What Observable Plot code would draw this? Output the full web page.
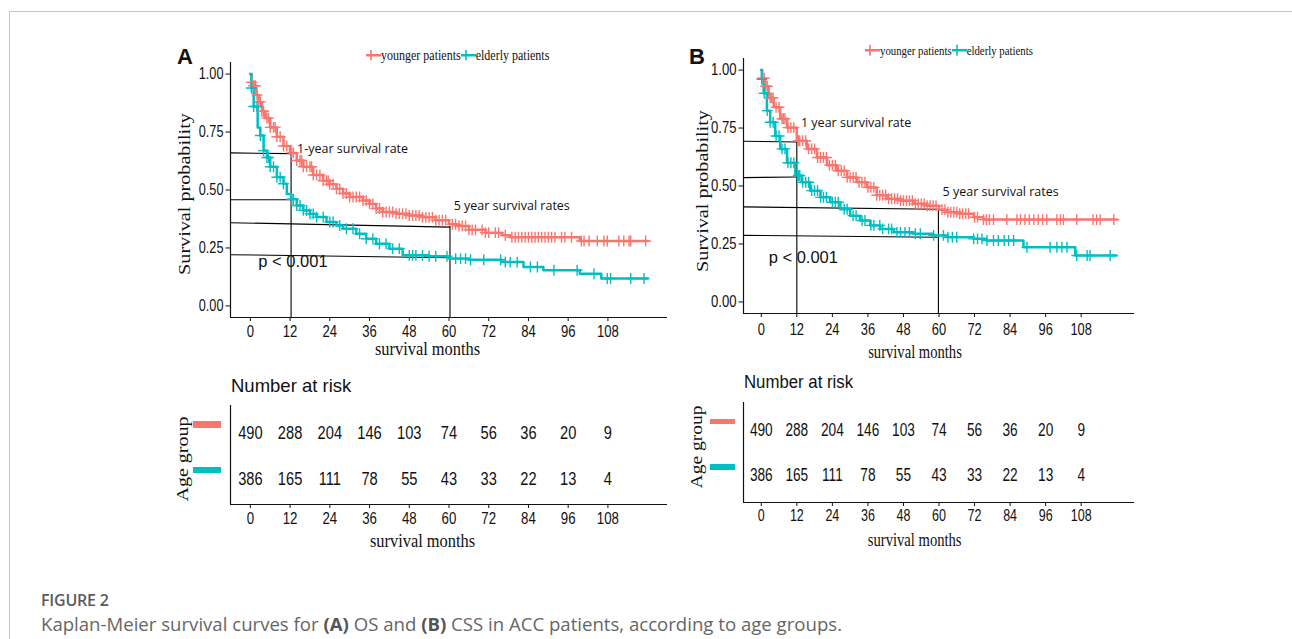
<!DOCTYPE html>
<html><head><meta charset="utf-8">
<script src="https://cdn.jsdelivr.net/npm/d3@7"></script>
<script src="https://cdn.jsdelivr.net/npm/@observablehq/plot@0.6"></script>
<style>
body{margin:0;background:#fff;}
#fig{position:relative;width:1292px;height:639px;overflow:hidden;background:#fff;font-family:"Liberation Sans",Arial,sans-serif;color:#111;}
.abs{position:absolute;white-space:nowrap;line-height:1;}
.plotbox{position:absolute;}
.plotbox svg{overflow:visible;}
</style></head><body><div id="fig"></div>
<script>
// ---------- data ----------
const months = [0,12,24,36,48,60,72,84,96,108];
const groups = ["younger patients","elderly patients"];
const colors = ["#F8766D","#00BFC4"];

const riskA_younger = [490,288,204,146,103,74,56,36,20,9];
const riskA_elderly = [386,165,111,78,55,43,33,22,13,4];
const riskB_younger = [490,288,204,146,103,74,56,36,20,9];
const riskB_elderly = [386,165,111,78,55,43,33,22,13,4];

// Kaplan-Meier step points [month, survival]
const kmA_younger = [[0,1],[0.4,0.965],[1,0.95],[1.8,0.91],[2.5,0.88],[3.5,0.84],[4.5,0.81],[6,0.77],[8,0.73],[10,0.69],[12,0.66],[14,0.627],[16,0.6],[19,0.565],[22,0.54],[24,0.525],[26,0.505],[28,0.485],[30,0.47],[34,0.455],[36,0.44],[38,0.42],[40,0.405],[44,0.398],[48,0.39],[52,0.382],[56,0.37],[60,0.352],[62.5,0.345],[66,0.328],[71,0.316],[76,0.305],[78.5,0.296],[99.5,0.28],[120,0.28]];
const kmA_elderly = [[0,1],[0.3,0.94],[1,0.86],[2.2,0.77],[3,0.735],[4,0.67],[5,0.64],[6,0.6],[8,0.555],[10,0.527],[11,0.483],[12.3,0.46],[14,0.433],[16,0.412],[18,0.397],[20,0.383],[23,0.362],[26,0.347],[28,0.333],[32,0.311],[35,0.29],[38,0.268],[42,0.247],[46,0.218],[54,0.214],[60,0.204],[66,0.199],[76,0.189],[82.5,0.168],[88.5,0.154],[99.5,0.139],[106,0.118],[120,0.118]];
const kmB_younger = [[0,1],[0.3,0.965],[1.3,0.93],[2.5,0.88],[4.2,0.84],[6.4,0.79],[8.7,0.752],[12,0.695],[15.4,0.66],[18.8,0.623],[22.2,0.59],[25.5,0.566],[29,0.537],[32.3,0.516],[35.7,0.494],[39,0.46],[42.4,0.445],[47,0.437],[51.4,0.423],[56,0.415],[60,0.398],[62.7,0.387],[67,0.38],[71.7,0.365],[75,0.355],[120,0.355]];
const kmB_elderly = [[0,1],[0.2,0.96],[0.8,0.9],[1.9,0.825],[3,0.775],[4.7,0.716],[6.4,0.66],[8.7,0.6],[11.5,0.545],[13.7,0.516],[16.5,0.48],[20,0.451],[23.3,0.43],[26.7,0.4],[30,0.372],[33.4,0.351],[36.8,0.33],[40.2,0.315],[44.7,0.3],[51.4,0.294],[58,0.287],[62.7,0.279],[71.7,0.272],[76,0.265],[88.5,0.236],[106,0.2],[120,0.2]];

// censoring times (months)
const censA_younger = [0.4,1,1.5,2,2.5,3,3.5,4,5,5.5,6,7,7.5,8,9,10,11,12.5,13,14,15,15.5,16,17,18,18.5,19,20,21,22,23,23.5,24,25,26,27,28,29,30,31,32,33,34,35,36,37,38,39,40,41,42,43,44,45,46,47,48,49,50,51,52,53,54,55,56,57,58,59,61,62,63,64,65,66,67,68,70,71,72,74,75,77,79,80,81,82,83,84,85,86,87,88,89,90,91,92,94,95,97,100,100.8,102.3,104.8,106.8,107.8,111.3,112.8,114.4,114.9,119.4];
const censA_elderly = [0.3,1,2,3,4,5,5.5,6,7,8,9,10,12.5,13,14,15,16,17,18,19,20,22,24,25,27,29,31,33,35,37,39,41,43,45,48,49,50,52,54,56,59.4,62,63.5,65,66.5,70.5,75.6,77,78.5,80.6,84.6,86.7,91.7,98.7,103.8,107.8,108.8,114.9,118.9];
const censB_younger = [0.3,1,1.5,2,3,3.5,4,5,6,7,7.5,8,9,10,11,12.5,13,14,15,16,17,18,19,20,21,22,23,24,25,26,27,28,29,30,31,32,33,34,35,36,37,38,39,40,41,42,43,44,45,46,47,48,49,50,51,52,53,54,55,56,57,58,59,61,62,63,64,65,66,67,68,69,70,72,73,75,76,77,78.4,82.9,86.3,87.5,89,90.5,92,93.5,95,96.4,99.8,101,102,106.5,112,113.2,114.4,119];
const censB_elderly = [0.2,1,2,3,4,5,6,7,8,9,10,11,12.5,13,14,15,16,17,18,19,20,21,22,24,25,26,28,29,31,32,34,35,37,38,40,41,43,44,45.8,47,48.5,50,52,53.7,58.2,61.5,63,64.5,66,71.7,73,74.5,76.2,78.4,80,82,83.5,85.2,89.7,97.5,99.8,101.5,103.2,106.5,110,111,117.8];

// reference lines [x1,y1,x2,y2]
const refsA = [[-6,0.66,12.3,0.657],[-6,0.458,12.3,0.458],[-6,0.359,60.3,0.34],[-6,0.221,60.3,0.208],[12.3,0.657,12.3,-0.05],[60.3,0.345,60.3,-0.05]];
const refsB = [[-6,0.693,12,0.69],[-6,0.536,12,0.539],[-6,0.41,59.8,0.40],[-6,0.287,59.5,0.279],[12,0.69,12,-0.05],[59.8,0.40,59.8,-0.05]];

// annotations [x, y, text, kind]
const annosA = [[14.1,0.679,"1-year survival rate","note"],[61.4,0.43,"5 year survival rates","note"],[2.4,0.189,"p < 0.001","p"]];
const annosB = [[13.4,0.771,"1 year survival rate","note"],[61.2,0.476,"5 year survival rates","note"],[2.5,0.191,"p < 0.001","p"]];

const yTicks = [0,0.25,0.5,0.75,1];
const xDomain = [-6,126];
const yDomain = [-0.05,1.05];

// ---------- helpers ----------
const fig = document.getElementById("fig");
function stepAt(curve, t){ let s = curve[0][1]; for (const [ct, cs] of curve){ if (ct <= t) s = cs; else break; } return s; }
function place(node, left, topPx){ const d = document.createElement("div"); d.className="plotbox"; d.style.left=left+"px"; d.style.top=topPx+"px"; d.appendChild(node); fig.appendChild(d); return node; }
function text(str, x, y, css, anchor){
  const d = document.createElement("div"); d.className="abs"; d.innerHTML = str;
  d.style.left = x+"px"; d.style.top = y+"px";
  const extra = css && css.extra; const c = Object.assign({}, css||{}); delete c.extra;
  Object.assign(d.style, c);
  d.style.transform = (anchor==="center" ? "translate(-50%,-50%)" : "translate(0,-50%)") + (extra ? " "+extra : "");
  d.style.transformOrigin = anchor==="center" ? "50% 50%" : "0 50%";
  fig.appendChild(d); return d;
}
// narrow the digits (the original uses a condensed face)
function condense(svg, selector, factor){
  svg.querySelectorAll(selector).forEach(t=>{
    const len = t.getComputedTextLength();
    if (len > 0){ t.setAttribute("textLength", (len*factor).toFixed(2)); t.setAttribute("lengthAdjust","spacingAndGlyphs"); }
  });
}

function kmPlot(o){
  const lines = [], cens = [];
  o.curves.forEach((c,i)=>{ c.forEach(([t,s])=>lines.push({t,s,g:groups[i]})); });
  o.censors.forEach((ts,i)=>{ ts.forEach(t=>cens.push({t, s: stepAt(o.curves[i], t), g: groups[i]})); });
  const refs = o.refs.map(([x1,y1,x2,y2])=>({x1,y1,x2,y2}));
  const notes = o.annos.filter(a=>a[3]==="note").map(([x,y,t])=>({x,y,t}));
  const pv = o.annos.filter(a=>a[3]==="p").map(([x,y,t])=>({x,y,t}));
  return Plot.plot({
    width: o.width, height: o.height,
    marginLeft: o.m[0], marginRight: o.m[1], marginTop: o.m[2], marginBottom: o.m[3],
    style: {fontFamily: "'Liberation Sans',Arial,sans-serif", fontSize: o.tickFont+"px", color:"#111", background:"transparent", overflow:"visible"},
    x: {domain: xDomain, label: null},
    y: {domain: yDomain, label: null},
    color: {domain: groups, range: colors},
    marks: [
      Plot.link(refs, {x1:"x1", y1:"y1", x2:"x2", y2:"y2", stroke:"#000", strokeWidth:1.1}),
      Plot.line(lines, {x:"t", y:"s", z:"g", stroke:"g", curve:"step-after", strokeWidth:2.5}),
      Plot.dot(cens, {x:"t", y:"s", stroke:"g", symbol:"plus", r:3.6, strokeWidth:1.4}),
      Plot.text(notes, {x:"x", y:"y", text:"t", textAnchor:"start", fontFamily:"'Open Sans','Noto Sans',sans-serif", fontSize:12.5, fill:"#111"}),
      Plot.text(pv, {x:"x", y:"y", text:"t", textAnchor:"start", fontFamily:"'Liberation Sans',Arial,sans-serif", fontSize:16.5, fill:"#111"}),
      Plot.ruleX([xDomain[0]], {stroke:"#111", strokeWidth:1.2}),
      Plot.ruleY([yDomain[0]], {stroke:"#111", strokeWidth:1.2}),
      Plot.axisY({ticks: yTicks, tickFormat: d3.format(".2f"), tickSize: 4.5, tickPadding: 2.5, fontSize: o.yFont, label: null}),
      Plot.axisX({ticks: months, tickSize: 4, tickPadding: o.xPad, fontSize: o.tickFont, label: null})
    ]
  });
}

function riskPlot(o){
  const rows = [];
  months.forEach((m,i)=>{ rows.push({t:m, row:2, n:String(o.young[i])}); rows.push({t:m, row:1, n:String(o.old[i])}); });
  return Plot.plot({
    width: o.width, height: o.height,
    marginLeft: o.m[0], marginRight: o.m[1], marginTop: o.m[2], marginBottom: o.m[3],
    style: {fontFamily: "'Liberation Sans',Arial,sans-serif", fontSize: o.tickFont+"px", color:"#111", background:"transparent", overflow:"visible"},
    x: {domain: xDomain, label: null},
    y: {domain: o.yDom, axis: null},
    marks: [
      Plot.text(rows, {x:"t", y:"row", text:"n", fontSize: o.numFont, fill:"#111"}),
      Plot.ruleX([xDomain[0]], {stroke:"#111", strokeWidth:1.2}),
      Plot.ruleY([o.yDom[0]], {stroke:"#111", strokeWidth:1.2}),
      Plot.axisX({ticks: months, tickSize: 4, tickPadding: o.xPad, fontSize: o.tickFont, label: null})
    ]
  });
}

// ---------- frame ----------
const frameTop = document.createElement("div"); frameTop.style.cssText="position:absolute;left:9px;top:11px;width:1290px;height:0;border-top:1px solid #c8c8c8;"; fig.appendChild(frameTop);
const frameLeft = document.createElement("div"); frameLeft.style.cssText="position:absolute;left:9px;top:11px;width:0;height:640px;border-left:1px solid #c8c8c8;"; fig.appendChild(frameLeft);

const TICKSEL = 'g[aria-label="x-axis tick label"] text, g[aria-label="y-axis tick label"] text';
const NARROWF = 0.78;

// ---------- panel A ----------
const kmA = place(kmPlot({curves:[kmA_younger,kmA_elderly], censors:[censA_younger,censA_elderly], refs:refsA, annos:annosA,
  width:510, height:340, m:[60,13,32,53], tickFont:16.8, yFont:16.3, xPad:3.5}), 170, 30);
const rkA = place(riskPlot({young:riskA_younger, old:riskA_elderly, width:510, height:165, m:[60,13,10,56], yDom:[0.436,2.607], numFont:18.8, tickFont:17, xPad:3}), 170, 395);

// ---------- panel B ----------
const kmB = place(kmPlot({curves:[kmB_younger,kmB_elderly], censors:[censB_younger,censB_elderly], refs:refsB, annos:annosB,
  width:470, height:345, m:[63,16,33,57], tickFont:16.5, yFont:16.8, xPad:5.5}), 680, 25);
const rkB = place(riskPlot({young:riskB_younger, old:riskB_elderly, width:470, height:165, m:[63,16,12,53], yDom:[0.416,2.604], numFont:17.5, tickFont:16, xPad:3.5}), 680, 390);

[kmA, kmB, rkA, rkB].forEach(s=>condense(s, TICKSEL, NARROWF));
[rkA, rkB].forEach(s=>condense(s, 'g[aria-label="text"] text', NARROWF));

// ---------- labels ----------
function legendKey(color){ return `<svg width="15" height="12" style="vertical-align:middle"><line x1="0" y1="6" x2="15" y2="6" stroke="${color}" stroke-width="2.2"/><line x1="5" y1="1.5" x2="5" y2="10.5" stroke="${color}" stroke-width="1.6"/></svg>`; }
function legendHTML(fs){ return groups.map((g,i)=>`${legendKey(colors[i])}<span style="font-size:${fs}px;vertical-align:middle">${g}</span>`).join(""); }
const SERIF = "'Liberation Serif','Times New Roman',serif";

// A
text("A", 177, 56.5, {fontWeight:"bold", fontSize:"22px"});
text(legendHTML(12), 366, 54, {fontFamily:SERIF, extra:"scaleY(1.15)"});
text("Survival probability", 185, 194, {fontFamily:SERIF, fontSize:"16px", extra:"rotate(-90deg) scale(1.26,1)"}, "center");
text("survival months", 427.5, 350, {fontFamily:SERIF, fontSize:"16.4px", extra:"scaleY(1.12)"}, "center");
text("Number at risk", 231, 386, {fontSize:"18.5px"});
text("Age group", 182.7, 459, {fontFamily:SERIF, fontSize:"16px", extra:"rotate(-90deg) scale(1.25,1)"}, "center");
text("survival months", 422.5, 541.7, {fontFamily:SERIF, fontSize:"16.4px", extra:"scaleY(1.12)"}, "center");
// B
text("B", 689, 56.5, {fontWeight:"bold", fontSize:"22px"});
text(legendHTML(10.8), 865, 49, {fontFamily:SERIF, extra:"scaleY(1.22)"});
text("Survival probability", 702.7, 191, {fontFamily:SERIF, fontSize:"16px", extra:"rotate(-90deg) scale(1.26,1)"}, "center");
text("survival months", 915, 351.7, {fontFamily:SERIF, fontSize:"14.6px", extra:"scaleY(1.25)"}, "center");
text("Number at risk", 744, 383.3, {fontSize:"16.8px", extra:"scaleY(1.1)"});
text("Age group", 696.7, 446.7, {fontFamily:SERIF, fontSize:"16px", extra:"rotate(-90deg) scale(1.22,1)"}, "center");
text("survival months", 914.7, 540, {fontFamily:SERIF, fontSize:"14.6px", extra:"scaleY(1.25)"}, "center");

// risk-table swatches
function swatch(x, y, w, h, c){ const d=document.createElement("div"); d.style.cssText=`position:absolute;left:${x}px;top:${y}px;width:${w}px;height:${h}px;background:${c};`; fig.appendChild(d); }
swatch(193, 421, 28, 6.5, colors[0]); swatch(193, 466.5, 28, 6.5, colors[1]);
swatch(710, 418.5, 25, 5.8, colors[0]); swatch(710, 464, 25, 5.8, colors[1]);

// caption
text("FIGURE 2", 41, 600, {fontFamily:"'Open Sans','Noto Sans',sans-serif", fontWeight:"600", fontSize:"16px", color:"#5a5a5a", letterSpacing:"-0.2px"});
text("Kaplan-Meier survival curves for <b style='font-weight:700;color:#555'>(A)</b> OS and <b style='font-weight:700;color:#555'>(B)</b> CSS in ACC patients, according to age groups.", 41, 624, {fontFamily:"'Open Sans','Noto Sans',sans-serif", fontSize:"18.6px", color:"#666"});
</script></body></html>
